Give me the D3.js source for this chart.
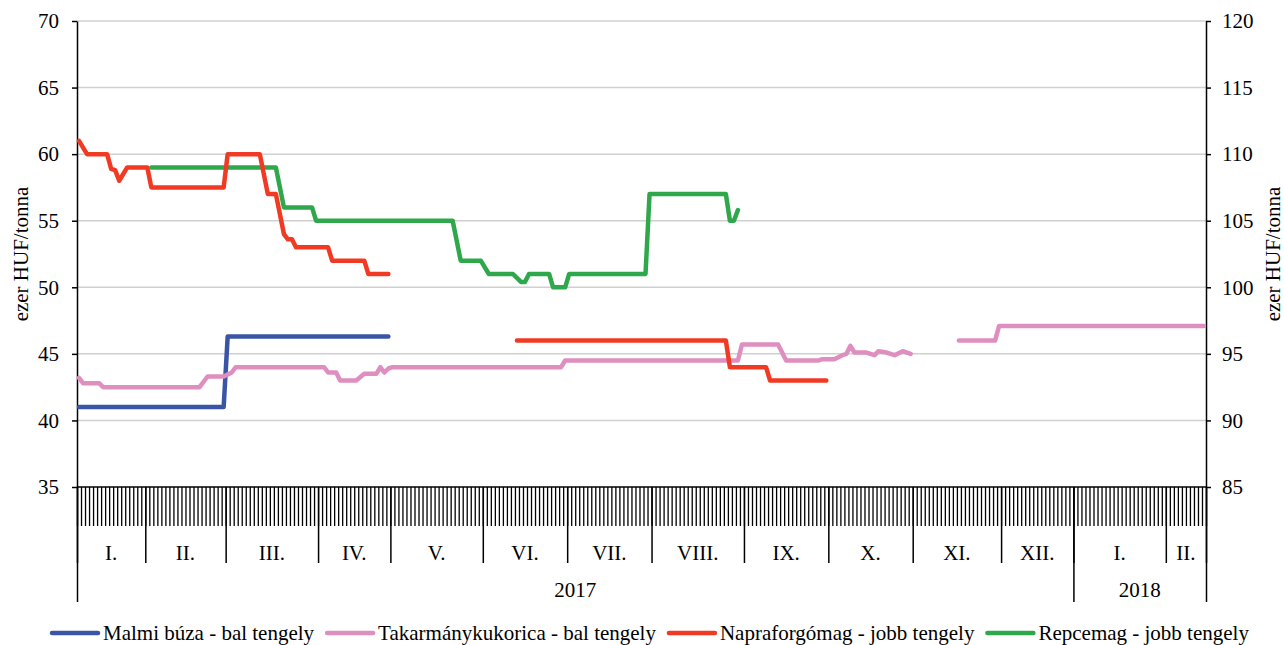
<!DOCTYPE html>
<html>
<head>
<meta charset="utf-8">
<script src="https://cdn.jsdelivr.net/npm/d3@7"></script>
<style>
  body { margin: 0; background: #fff; }
  text { font-family: "Liberation Serif", "Times New Roman", serif; fill: #000; }
</style>
</head>
<body>
<svg id="chart" width="1284" height="645"></svg>
<script>
// categories: trading days grouped by month
const months = ['I.', 'II.', 'III.', 'IV.', 'V.', 'VI.', 'VII.', 'VIII.', 'IX.', 'X.', 'XI.', 'XII.', 'I.', 'II.'];
const daysPerMonth = [17, 20, 23, 18, 23, 21, 21, 23, 21, 21, 22, 18, 23, 10];
const years = ['2017', '2018'];
const monthsPerYear = [12, 2];

const leftTicks = [35, 40, 45, 50, 55, 60, 65, 70];
const rightTicks = [85, 90, 95, 100, 105, 110, 115, 120];

// series vertices: [day index, value]
const malmiBuza = [[0, 41], [36, 41], [37, 46.3], [77, 46.3]];
const takarmanyKukorica1 = [[0, 43.2], [1, 42.8], [5, 42.8], [6, 42.5], [30, 42.5], [32, 43.3], [36, 43.3],
  [38, 43.6], [39, 44], [61, 44], [62, 43.6], [64, 43.6], [65, 43], [69, 43], [71, 43.5], [74, 43.5],
  [75, 44], [76, 43.6], [77, 43.9], [78, 44], [120, 44], [121, 44.5], [164, 44.5], [165, 45.7], [174, 45.7],
  [176, 44.5], [184, 44.5], [185, 44.6], [188, 44.6], [190, 44.9], [191, 45], [192, 45.6], [193, 45.1],
  [196, 45.1], [198, 44.9], [199, 45.2], [201, 45.1], [203, 44.9], [205, 45.2], [207, 45]];
const takarmanyKukorica2 = [[219, 46], [228, 46], [229, 47.1], [280, 47.1]];
const napraforgomag1 = [[0, 111], [2, 110], [7, 110], [8, 108.9], [9, 108.8], [10, 108], [12, 109], [17, 109],
  [18, 107.5], [36, 107.5], [37, 110], [45, 110], [47, 107], [49, 107], [51, 104], [52, 103.6], [53, 103.6],
  [54, 103], [62, 103], [63, 102], [71, 102], [72, 101], [77, 101]];
const napraforgomag2 = [[109, 96], [161, 96], [162, 94], [171, 94], [172, 93], [186, 93]];
const repcemag = [[18, 109], [49, 109], [51, 106], [58, 106], [59, 105], [93, 105], [95, 102], [100, 102],
  [102, 101], [108, 101], [110, 100.4], [111, 100.4], [112, 101], [117, 101], [118, 100], [121, 100],
  [122, 101], [141, 101], [142, 107], [161, 107], [162, 105], [163, 105], [164, 105.8]];

const seriesNames = ['Malmi búza - bal tengely', 'Takarmánykukorica - bal tengely',
  'Napraforgómag - jobb tengely', 'Repcemag - jobb tengely'];
const colors = ['#3a55a6', '#de8fbf', '#f03a24', '#2fa84b'];

const svg = d3.select('#chart');
const plotLeft = 77, plotRight = 1206, plotTop = 21, plotBottom = 487;
const fontSize = 21;
const nDays = d3.sum(daysPerMonth);

const x = d3.scaleLinear().domain([0, nDays]).range([plotLeft, plotRight]);
const yL = d3.scaleLinear().domain([35, 70]).range([plotBottom, plotTop]);
const yR = d3.scaleLinear().domain([85, 120]).range([plotBottom, plotTop]);

// gridlines
svg.append('g')
  .selectAll('line')
  .data(leftTicks.slice(1))
  .join('line')
  .attr('x1', plotLeft).attr('x2', plotRight)
  .attr('y1', d => yL(d)).attr('y2', d => yL(d))
  .attr('stroke', '#d0d0d0').attr('stroke-width', 1.5);

// day ticks
const dayBounds = d3.range(0, nDays + 1);
svg.append('g')
  .attr('transform', `translate(0,${plotBottom})`)
  .call(d3.axisBottom(x).tickValues(dayBounds).tickSize(39).tickFormat(''))
  .call(g => g.select('.domain').remove())
  .selectAll('line').attr('stroke', '#000').attr('stroke-width', 1.3);

// month separators
const monthBounds = Array.from(d3.cumsum([0].concat(daysPerMonth)));
svg.append('g')
  .attr('transform', `translate(0,${plotBottom})`)
  .call(d3.axisBottom(x).tickValues(monthBounds).tickSize(76).tickFormat(''))
  .call(g => g.select('.domain').remove())
  .selectAll('line').attr('stroke', '#000').attr('stroke-width', 1.5);

const monthMid = months.map((m, i) => (monthBounds[i] + monthBounds[i + 1]) / 2);
svg.append('g')
  .selectAll('text')
  .data(months)
  .join('text')
  .attr('x', (d, i) => x(monthMid[i]))
  .attr('y', 560)
  .attr('text-anchor', 'middle')
  .attr('font-size', fontSize)
  .text(d => d);

// year separators
const yearMonthBounds = Array.from(d3.cumsum([0].concat(monthsPerYear)));
const yearBounds = yearMonthBounds.map(m => monthBounds[m]);
svg.append('g')
  .attr('transform', `translate(0,${plotBottom})`)
  .call(d3.axisBottom(x).tickValues(yearBounds).tickSize(115).tickFormat(''))
  .call(g => g.select('.domain').remove())
  .selectAll('line').attr('stroke', '#000').attr('stroke-width', 1.5);

svg.append('g')
  .selectAll('text')
  .data(years)
  .join('text')
  .attr('x', (d, i) => x((yearBounds[i] + yearBounds[i + 1]) / 2))
  .attr('y', 597)
  .attr('text-anchor', 'middle')
  .attr('font-size', fontSize)
  .text(d => d);

// bottom axis line
svg.append('line')
  .attr('x1', plotLeft).attr('x2', plotRight)
  .attr('y1', plotBottom).attr('y2', plotBottom)
  .attr('stroke', '#000').attr('stroke-width', 1.5);

// left axis
svg.append('g')
  .attr('transform', `translate(${plotLeft},0)`)
  .call(d3.axisLeft(yL).tickValues(leftTicks).tickSize(5).tickPadding(13).tickSizeOuter(0))
  .call(g => g.select('.domain').attr('stroke-width', 1.5))
  .call(g => g.selectAll('line').attr('stroke-width', 1.5))
  .call(g => g.selectAll('text').attr('font-size', fontSize).attr('font-family', '"Liberation Serif", serif'));

// right axis
svg.append('g')
  .attr('transform', `translate(${plotRight},0)`)
  .call(d3.axisRight(yR).tickValues(rightTicks).tickSize(5).tickPadding(11).tickSizeOuter(0))
  .call(g => g.select('.domain').attr('stroke-width', 1.5))
  .call(g => g.selectAll('line').attr('stroke-width', 1.5))
  .call(g => g.selectAll('text').attr('font-size', fontSize).attr('font-family', '"Liberation Serif", serif'));

// axis titles
svg.append('text')
  .attr('transform', 'translate(28,254) rotate(-90)')
  .attr('text-anchor', 'middle')
  .attr('font-size', fontSize)
  .text('ezer HUF/tonna');
svg.append('text')
  .attr('transform', 'translate(1280,254) rotate(-90)')
  .attr('text-anchor', 'middle')
  .attr('font-size', fontSize)
  .text('ezer HUF/tonna');

// lines
const lineL = d3.line().x(d => x(d[0] + 0.5)).y(d => yL(d[1]));
const lineR = d3.line().x(d => x(d[0] + 0.5)).y(d => yR(d[1]));

const drawn = [
  { data: malmiBuza, line: lineL, color: colors[0] },
  { data: takarmanyKukorica1, line: lineL, color: colors[1] },
  { data: takarmanyKukorica2, line: lineL, color: colors[1] },
  { data: repcemag, line: lineR, color: colors[3] },
  { data: napraforgomag1, line: lineR, color: colors[2] },
  { data: napraforgomag2, line: lineR, color: colors[2] }
];
svg.append('g')
  .selectAll('path')
  .data(drawn)
  .join('path')
  .attr('d', d => d.line(d.data))
  .attr('fill', 'none')
  .attr('stroke', d => d.color)
  .attr('stroke-width', 4.5)
  .attr('stroke-linejoin', 'round')
  .attr('stroke-linecap', 'round');

// legend
const legend = svg.append('g').attr('transform', 'translate(0,633)');
let lx = 52;
seriesNames.forEach((name, i) => {
  legend.append('line')
    .attr('x1', lx).attr('x2', lx + 46)
    .attr('y1', 0).attr('y2', 0)
    .attr('stroke', colors[i]).attr('stroke-width', 4.5).attr('stroke-linecap', 'round');
  const t = legend.append('text')
    .attr('x', lx + 51)
    .attr('y', 7)
    .attr('font-size', fontSize)
    .text(name);
  lx += 51 + t.node().getComputedTextLength() + 13;
});
</script>
</body>
</html>
